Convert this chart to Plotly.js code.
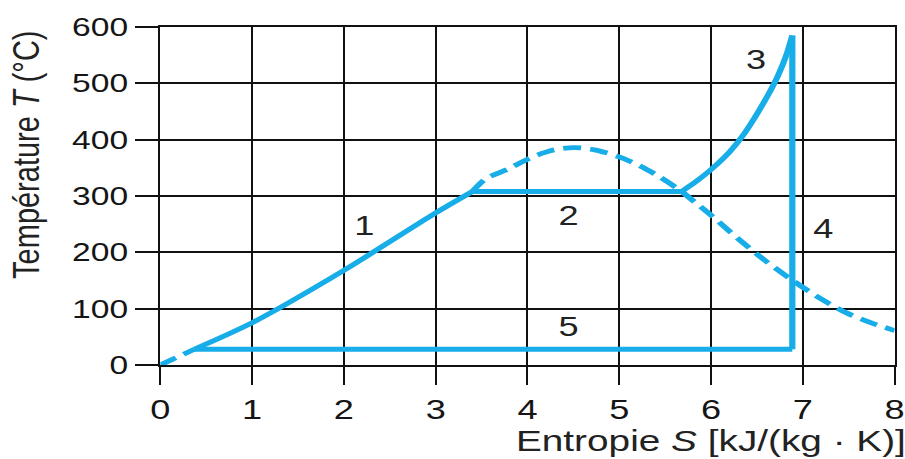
<!DOCTYPE html>
<html>
<head>
<meta charset="utf-8">
<script src="https://cdn.plot.ly/plotly-3.0.1.min.js"></script>
<style>
  html, body { margin: 0; padding: 0; background: #fff; overflow: hidden; }
  /* the diagram is laid out at 700px and widened to fill the 905px page */
  #chart { width: 700px; height: 459px; transform: scaleX(1.292857); transform-origin: 0 0; }
</style>
</head>
<body>
<div id="chart"></div>
<script>
// Saturation curve of water (T in °C over entropy S in kJ/(kg·K))
const domeS = [0, 0.37, 1, 2, 3, 3.40, 3.55, 3.79, 4.01, 4.24, 4.50, 4.73, 4.99, 5.22, 5.44, 5.68,
               6.02, 6.31, 6.60, 6.89, 7.18, 7.47, 7.76, 8.0];
const domeT = [0, 28, 74, 168, 270, 308, 331, 348, 366, 380, 386, 382, 370, 354, 334, 308,
               263, 222, 184, 150, 119, 93, 74, 61];

// Clausius-Rankine cycle steps
const heatS = [0.37, 1, 2, 3, 3.40];            // 1: heating of the feed water
const heatT = [28, 75, 168, 270, 308];
const evapS = [3.40, 5.68];                      // 2: evaporation
const evapT = [308, 308];
const superS = [5.68, 5.84, 6.0, 6.2, 6.35, 6.49, 6.62, 6.73, 6.82, 6.885];   // 3: superheating
const superT = [308, 326, 347, 378, 408, 443, 479, 514, 550, 585];
const expS = [6.885, 6.885];                     // 4: expansion in the turbine
const expT = [585, 28];
const condS = [6.885, 0.37];                     // 5: condensation
const condT = [28, 28];

// step numbers and their positions
const stepLabels = ['1', '2', '3', '4', '5'];
const stepS = [2.23, 4.45, 6.49, 7.23, 4.45];
const stepT = [248, 266, 542, 242, 68];

const xTicks = [0, 1, 2, 3, 4, 5, 6, 7, 8];
const yTicks = [0, 100, 200, 300, 400, 500, 600];

const BLUE = '#17ade8';
const FONT = '"Liberation Sans", Arial, Helvetica, sans-serif';
const LW = 4.8;

const solid = (x, y) => ({
  x, y, type: 'scatter', mode: 'lines', hoverinfo: 'skip',
  line: { color: BLUE, width: LW, shape: 'spline', smoothing: 0.8 }
});
const dashed = (x, y) => ({
  x, y, type: 'scatter', mode: 'lines', hoverinfo: 'skip',
  line: { color: BLUE, width: LW, dash: '14px,7px', shape: 'spline', smoothing: 0.8 }
});

// the saturation curve is dashed only where no cycle step runs over it
const traces = [
  dashed(domeS.slice(0, 2), domeT.slice(0, 2)),
  dashed(domeS.slice(5, 16), domeT.slice(5, 16)),
  dashed(domeS.slice(15), domeT.slice(15)),
  solid(heatS, heatT),
  solid(evapS, evapT),
  solid(superS, superT),
  solid(expS, expT),
  solid(condS, condT)
];

const annotations = stepLabels.map((t, i) => ({
  x: stepS[i], y: stepT[i], xref: 'x', yref: 'y', text: t, showarrow: false,
  font: { family: FONT, size: 28, color: '#222' }
}));
annotations.push({
  xref: 'paper', yref: 'y', x: -0.182, y: 374, xanchor: 'center', yanchor: 'middle',
  text: 'Température <i>T</i> (°C)', textangle: -90, showarrow: false,
  font: { family: FONT, size: 29, color: '#222' }
});
annotations.push({
  xref: 'paper', yref: 'paper', x: 1.019, y: -0.222, xanchor: 'right', yanchor: 'middle',
  text: 'Entropie <i>S</i> [kJ/(kg · K)]', showarrow: false,
  font: { family: FONT, size: 30, color: '#222' }
});

const layout = {
  width: 700, height: 459,
  margin: { l: 124, r: 7.5, t: 27, b: 94.4 },
  paper_bgcolor: '#fff', plot_bgcolor: '#fff',
  showlegend: false,
  xaxis: {
    range: [0, 8], tickvals: xTicks, ticktext: xTicks.map(String),
    showgrid: true, gridcolor: '#111', gridwidth: 1.55, zeroline: false,
    showline: true, mirror: true, linecolor: '#111', linewidth: 2,
    ticks: 'outside', ticklen: 18, tickwidth: 1.55, tickcolor: '#111',
    tickfont: { family: FONT, size: 28, color: '#151515' }, fixedrange: true
  },
  yaxis: {
    range: [0, 600], tickvals: yTicks, ticktext: yTicks.map(String),
    showgrid: true, gridcolor: '#111', gridwidth: 2, zeroline: false,
    showline: true, mirror: true, linecolor: '#111', linewidth: 1.7,
    ticks: 'outside', ticklen: 18, tickwidth: 2, tickcolor: '#111',
    tickfont: { family: FONT, size: 26, color: '#151515' }, fixedrange: true
  },
  annotations
};

Plotly.newPlot('chart', traces, layout, { displayModeBar: false, staticPlot: true });
</script>
</body>
</html>
